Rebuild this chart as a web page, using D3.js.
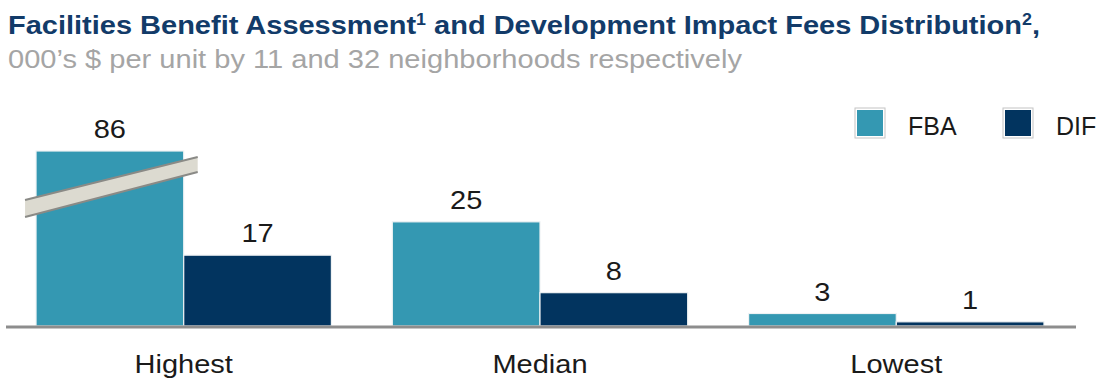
<!DOCTYPE html>
<html>
<head>
<meta charset="utf-8">
<script src="https://cdn.jsdelivr.net/npm/d3@7"></script>
<style>
  html, body { margin: 0; padding: 0; background: #ffffff; }
  svg { display: block; }
  text { font-family: "Liberation Sans", Arial, sans-serif; }
</style>
</head>
<body>
<svg id="chart" width="1101" height="380"></svg>
<script>
// Per-unit fees in thousands of dollars
const categories = ["Highest", "Median", "Lowest"];
const seriesNames = ["FBA", "DIF"];
const fbaValues = [86, 25, 3];
const difValues = [17, 8, 1];
const seriesColors = ["#3498b2", "#02345f"];

const titleText = "Facilities Benefit Assessment";
const subtitleText = "000\u2019s $ per unit by 11 and 32 neighborhoods respectively";

const svg = d3.select("#chart");

// Stretch a text element horizontally by a width factor
function stretch(sel, factor) {
  sel.each(function () {
    const len = this.getComputedTextLength();
    d3.select(this)
      .attr("textLength", len * factor)
      .attr("lengthAdjust", "spacingAndGlyphs");
  });
}
const K = 1.16;

// ---- Title ----
const title = svg.append("text")
  .attr("x", 8).attr("y", 34)
  .attr("font-size", 26).attr("font-weight", "bold")
  .attr("fill", "#123b69");
title.append("tspan").text(titleText);
title.append("tspan").attr("font-size", 16).attr("dy", -9).text("1");
title.append("tspan").attr("dy", 9).text(" and Development Impact Fees Distribution");
title.append("tspan").attr("font-size", 16).attr("dy", -9).text("2");
title.append("tspan").attr("dy", 9).text(",");
title.attr("textLength", 1032).attr("lengthAdjust", "spacingAndGlyphs");

svg.append("text")
  .attr("x", 8).attr("y", 68)
  .attr("font-size", 25)
  .attr("fill", "#a5a5a5")
  .text(subtitleText)
  .attr("textLength", 734).attr("lengthAdjust", "spacingAndGlyphs");

// ---- Scales ----
const baseY = 326;
const x = d3.scaleBand()
  .domain(categories)
  .range([6, 1074])
  .paddingInner(0.171)
  .paddingOuter(0.0843);

const xs = d3.scaleBand()
  .domain(seriesNames)
  .range([0, x.bandwidth()]);

// The tallest bar is cut off at the top of the domain (shown with a break mark)
const y = d3.scaleLinear()
  .domain([0, 42])
  .range([baseY, 151])
  .clamp(true);

const rows = categories.map((c, i) => ({
  category: c,
  values: [
    { key: "FBA", value: fbaValues[i], color: seriesColors[0] },
    { key: "DIF", value: difValues[i], color: seriesColors[1] }
  ]
}));

const groups = svg.selectAll("g.group")
  .data(rows)
  .join("g")
  .attr("class", "group")
  .attr("transform", d => `translate(${x(d.category)},0)`);

groups.selectAll("rect.bar")
  .data(d => d.values)
  .join("rect")
  .attr("class", "bar")
  .attr("x", d => xs(d.key))
  .attr("y", d => y(d.value))
  .attr("width", xs.bandwidth())
  .attr("height", d => baseY - y(d.value))
  .attr("fill", d => d.color)
  .attr("stroke", "#eef2f4")
  .attr("stroke-width", 1.2);

groups.selectAll("text.val")
  .data(d => d.values)
  .join("text")
  .attr("class", "val")
  .attr("x", d => xs(d.key) + xs.bandwidth() / 2)
  .attr("y", d => y(d.value) - 13)
  .attr("text-anchor", "middle")
  .attr("font-size", 25)
  .attr("fill", "#1a1a1a")
  .text(d => d.value)
  .call(stretch, K);

// ---- Break mark on the truncated bar ----
rows.forEach(r => {
  r.values.forEach(v => {
    if (v.value > y.domain()[1]) {
      const bx = x(r.category) + xs(v.key);
      const top = y(v.value);
      const x0 = bx - 11, x1 = bx + xs.bandwidth() + 14;
      const pts = [[x0, top + 49], [x1, top + 6], [x1, top + 21], [x0, top + 66]];
      svg.append("polygon")
        .attr("points", pts.map(p => p.join(",")).join(" "))
        .attr("fill", "#dcdad0");
      svg.append("line")
        .attr("x1", x0).attr("y1", top + 49).attr("x2", x1).attr("y2", top + 6)
        .attr("stroke", "#8a8a86").attr("stroke-width", 2);
      svg.append("line")
        .attr("x1", x0).attr("y1", top + 66).attr("x2", x1).attr("y2", top + 21)
        .attr("stroke", "#8a8a86").attr("stroke-width", 2);
    }
  });
});

// ---- Baseline ----
svg.append("line")
  .attr("x1", 6).attr("x2", 1076)
  .attr("y1", baseY + 1).attr("y2", baseY + 1)
  .attr("stroke", "#8d8d8d").attr("stroke-width", 3);

// ---- Category labels ----
svg.selectAll("text.cat")
  .data(categories)
  .join("text")
  .attr("class", "cat")
  .attr("x", d => x(d) + x.bandwidth() / 2)
  .attr("y", 373)
  .attr("text-anchor", "middle")
  .attr("font-size", 25)
  .attr("fill", "#1a1a1a")
  .text(d => d)
  .call(stretch, K);

// ---- Legend ----
const legendX = [855, 1003];
const legend = svg.selectAll("g.legend")
  .data(seriesNames)
  .join("g")
  .attr("class", "legend")
  .attr("transform", (d, i) => `translate(${legendX[i]},108)`);

legend.append("rect")
  .attr("width", 30).attr("height", 30)
  .attr("fill", "#ffffff").attr("stroke", "#c4c4c4").attr("stroke-width", 1);
legend.append("rect")
  .attr("x", 2).attr("y", 2).attr("width", 26).attr("height", 26)
  .attr("fill", (d, i) => seriesColors[i]);
legend.append("text")
  .attr("x", 53).attr("y", 27)
  .attr("font-size", 25)
  .attr("fill", "#1a1a1a")
  .text(d => d);
</script>
</body>
</html>
